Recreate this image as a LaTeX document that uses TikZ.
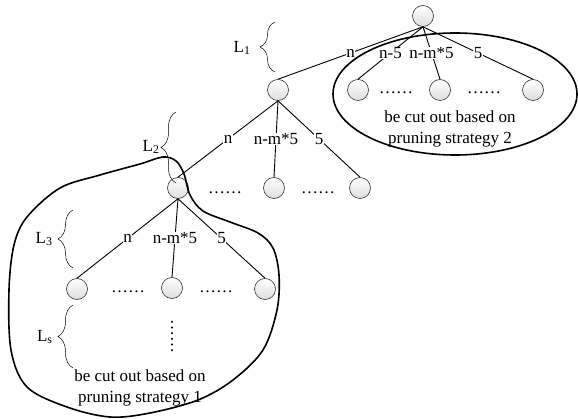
\documentclass[tikz,border=0pt]{standalone}
\usepackage{fontspec}
\setmainfont{Liberation Serif}
\usetikzlibrary{positioning, decorations.pathreplacing}

\begin{document}
\begin{tikzpicture}[x=1pt, y=-1pt, line width=0.9pt,
    every node/.style={font=\fontsize{17}{21}\selectfont},
    vert/.style={circle, draw=black!80, line width=0.6pt, top color=white, bottom color=black!13, minimum size=21pt, inner sep=0pt},
    lbl/.style={fill=white, inner sep=0.5pt},
    lvl/.style={decorate, decoration={brace, amplitude=15pt}, line width=0.5pt},
    lvlname/.style={anchor=east, inner sep=0pt},
    cut/.style={line width=1.6pt}]
  \useasboundingbox (0,0) rectangle (578,419);

  % tree nodes
  \node[vert] (root) at (423,16) {};
  \node[vert] (a) at (278,90) {};
  \node[vert] (b1) at (358,90) {};
  \node[vert] (b2) at (440,90) {};
  \node[vert] (b3) at (533,90) {};
  \node[vert] (c1) at (178,188) {};
  \node[vert] (c2) at (274,188) {};
  \node[vert] (c3) at (360,188) {};
  \node[vert] (d1) at (77,289) {};
  \node[vert] (d2) at (172,288) {};
  \node[vert] (d3) at (265,289) {};

  \draw (root.south) -- node[lbl] {n} (a.north);
  \draw (root.south) -- node[lbl] {n-5} (b1.north);
  \draw (root.south) -- node[lbl] {n-m*5} (b2.north);
  \draw (root.south) -- node[lbl] {5} (b3.north);
  \draw (a.south) -- node[lbl] {n} (c1.north);
  \draw (a.south) -- node[lbl] {n-m*5} (c2.north);
  \draw (a.south) -- node[lbl] {5} (c3.north);
  \draw (c1.south) -- node[lbl] {n} (d1.north);
  \draw (c1.south) -- node[lbl] {n-m*5} (d2.north);
  \draw (c1.south) -- node[lbl] {5} (d3.north);

  % dots between siblings
  \node (db1) at (396,93) {……};
  \node (db2) at (484,93) {……};
  \node (dc1) at (225,193) {……};
  \node (dc2) at (318,193) {……};
  \node (dd1) at (128,292) {……};
  \node (dd2) at (216,292) {……};
  \node[rotate=90] (dv) at (172,336) {……};

  % levels
  \draw[lvl] (275,72) -- (275,22);
  \draw[lvl] (176,183) -- (176,112);
  \draw[lvl] (73,268) -- (73,210);
  \draw[lvl] (73,368) -- (73,305);
  \node[lvlname] (l1) at (251,48) {L\textsubscript{1}};
  \node[lvlname] (l2) at (160,147) {L\textsubscript{2}};
  \node[lvlname] (l3) at (53,239) {L\textsubscript{3}};
  \node[lvlname] (ls) at (53,337) {L\textsubscript{s}};

  % pruned parts
  \node[align=center] (s2) at (450,129) {be cut out based on\\pruning strategy 2};
  \node[align=center] (s1) at (140,388) {be cut out based on\\pruning strategy 1};
  \draw[cut] (455,94) ellipse [x radius=122, y radius=61];
  \draw[cut] plot[smooth cycle, tension=0.55] coordinates {(163,157) (176,161) (184,174) (190,195)
    (203,211) (230,222) (258,233) (273,248) (279,275) (277,310) (263,350) (233,380) (198,400)
    (150,413) (110,417) (67,407) (27,387) (11,350) (9,290) (14,245) (27,217) (60,188) (100,175) (140,164)};
\end{tikzpicture}
\end{document}
